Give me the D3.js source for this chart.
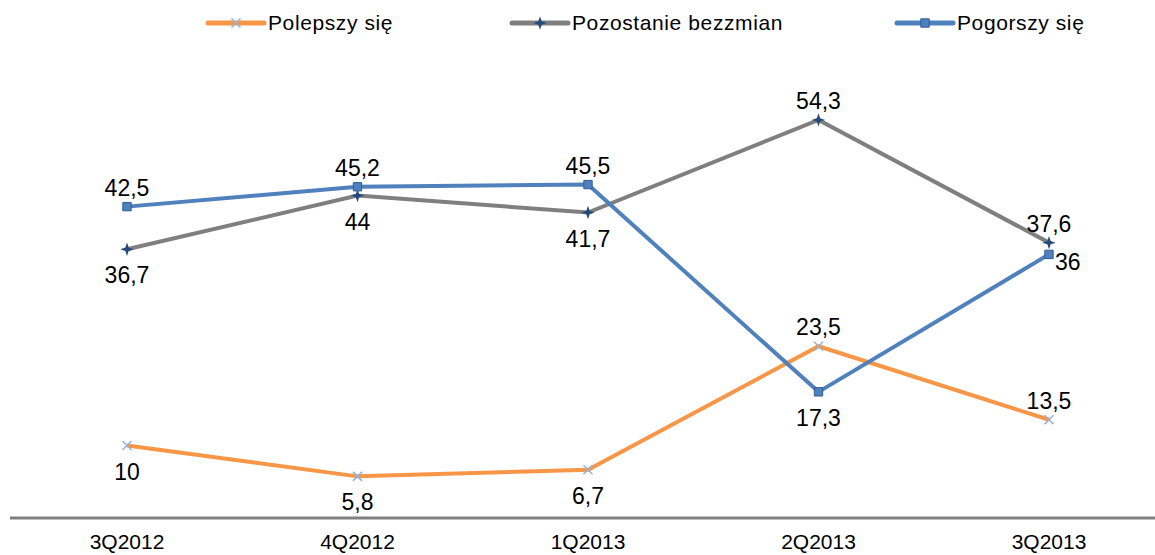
<!DOCTYPE html>
<html>
<head>
<meta charset="utf-8">
<script src="https://cdn.jsdelivr.net/npm/d3@7"></script>
<style>
  body { margin: 0; background: #fff; }
  text { font-family: "Liberation Sans", Arial, sans-serif; fill: #000; }
</style>
</head>
<body>
<div id="chart"></div>
<script>
// Data
const categories = ["3Q2012", "4Q2012", "1Q2013", "2Q2013", "3Q2013"];
const seriesNames = ["Polepszy się", "Pozostanie bezzmian", "Pogorszy się"];
const polepszy = [10, 5.8, 6.7, 23.5, 13.5];
const bezZmian = [36.7, 44, 41.7, 54.3, 37.6];
const pogorszy = [42.5, 45.2, 45.5, 17.3, 36];

// where each data label sits relative to its point
const polepszyLabels = ["below", "below", "below", "above", "above"];
const bezZmianLabels = ["below", "below", "below", "above", "above"];
const pogorszyLabels = ["above", "above", "above", "below", "right"];

const width = 1155;
const height = 555;

const series = [
  { name: seriesNames[0], values: polepszy, labels: polepszyLabels, color: "#F79646", marker: "x" },
  { name: seriesNames[1], values: bezZmian, labels: bezZmianLabels, color: "#7F7F7F", marker: "star" },
  { name: seriesNames[2], values: pogorszy, labels: pogorszyLabels, color: "#4F81BD", marker: "square" }
];

const svg = d3.select("#chart")
  .append("svg")
  .attr("width", width)
  .attr("height", height);

// Scales
const x = d3.scalePoint()
  .domain(categories)
  .range([127, 1049]);

const y = d3.scaleLinear()
  .domain([0, 60])
  .range([519, 78]);

// Category axis
svg.append("line")
  .attr("x1", 10)
  .attr("x2", width)
  .attr("y1", y(0) - 1)
  .attr("y2", y(0) - 1)
  .attr("stroke", "#808080")
  .attr("stroke-width", 3);

svg.append("g")
  .selectAll("text")
  .data(categories)
  .enter()
  .append("text")
  .attr("x", (d) => x(d))
  .attr("y", 549)
  .attr("text-anchor", "middle")
  .style("font-size", "21px")
  .text((d) => d);

// 4-point star for the "bez zmian" series
const star4 = {
  draw(context, size) {
    const r = Math.sqrt(size) * 0.75;
    const ri = r * 0.35;
    for (let k = 0; k < 8; k++) {
      const a = (k * Math.PI) / 4 - Math.PI / 2;
      const rr = k % 2 === 0 ? r : ri;
      if (k === 0) context.moveTo(rr * Math.cos(a), rr * Math.sin(a));
      else context.lineTo(rr * Math.cos(a), rr * Math.sin(a));
    }
    context.closePath();
  }
};

// Marker drawing
function drawMarker(g, type, cx, cy) {
  if (type === "x") {
    g.append("path")
      .attr("d", d3.symbol().type(d3.symbolX).size(55)())
      .attr("transform", `translate(${cx},${cy})`)
      .attr("fill", "none")
      .attr("stroke", "#95B3D7")
      .attr("stroke-width", 1.5);
  } else if (type === "star") {
    g.append("path")
      .attr("d", d3.symbol().type(star4).size(80)())
      .attr("transform", `translate(${cx},${cy})`)
      .attr("fill", "#244A7A");
  } else {
    g.append("path")
      .attr("d", d3.symbol().type(d3.symbolSquare).size(70)())
      .attr("transform", `translate(${cx},${cy})`)
      .attr("fill", "#4F81BD")
      .attr("stroke", "#2E5C95")
      .attr("stroke-width", 1);
  }
}

const line = d3.line()
  .x((d, i) => x(categories[i]))
  .y((d) => y(d));

// Lines and markers
series.forEach((s) => {
  const g = svg.append("g");

  g.append("path")
    .datum(s.values)
    .attr("d", line)
    .attr("fill", "none")
    .attr("stroke", s.color)
    .attr("stroke-width", 4)
    .attr("stroke-linejoin", "miter");

  s.values.forEach((v, i) => {
    drawMarker(g, s.marker, x(categories[i]), y(v));
  });
});

// Data labels
series.forEach((s) => {
  svg.append("g")
    .selectAll("text")
    .data(s.values)
    .enter()
    .append("text")
    .attr("x", (d, i) => {
      const pos = s.labels[i];
      return pos === "right" ? x(categories[i]) + 6 : x(categories[i]);
    })
    .attr("y", (d, i) => {
      const pos = s.labels[i];
      if (pos === "above") return y(d) - 11;
      if (pos === "below") return y(d) + 34;
      return y(d) + 16;
    })
    .attr("text-anchor", (d, i) => (s.labels[i] === "right" ? "start" : "middle"))
    .style("font-size", "23px")
    .text((d) => String(d).replace(".", ","));
});

// Legend
const legendX = [208, 512, 897];
const legend = svg.append("g");

series.forEach((s, i) => {
  const lx = legendX[i];
  const ly = 23;
  legend.append("line")
    .attr("x1", lx)
    .attr("x2", lx + 56)
    .attr("y1", ly)
    .attr("y2", ly)
    .attr("stroke", s.color)
    .attr("stroke-width", 5)
    .attr("stroke-linecap", "round");
  drawMarker(legend, s.marker, lx + 28, ly);
  legend.append("text")
    .attr("x", lx + 60)
    .attr("y", ly + 7)
    .style("font-size", "21px")
    .style("letter-spacing", "0.6px")
    .text(s.name);
});
</script>
</body>
</html>
